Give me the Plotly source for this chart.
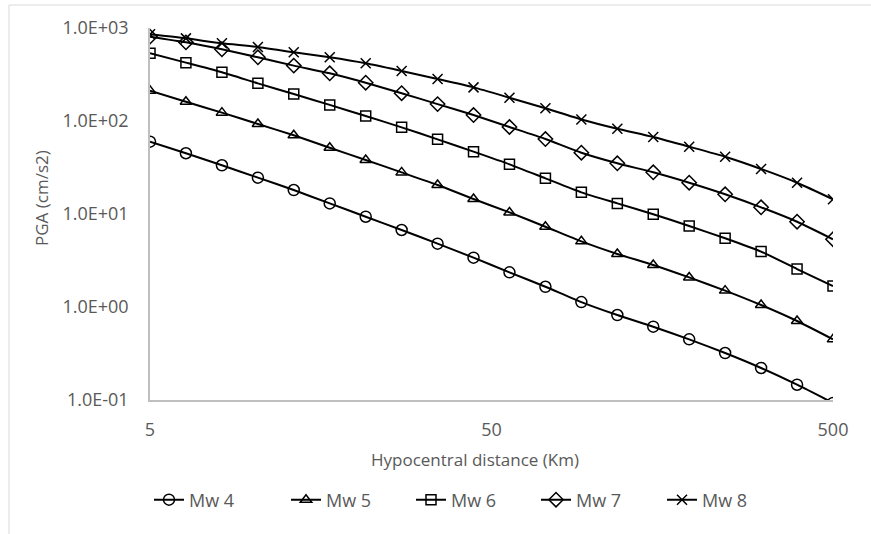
import plotly.graph_objects as go

# Hypocentral distance (km), 20 points evenly spaced on log scale from 5 to 500
distance = [5, 6.37, 8.12, 10.35, 13.18, 16.80, 21.41, 27.28, 34.76, 44.29,
            56.44, 71.92, 91.65, 116.8, 148.8, 189.6, 241.6, 307.9, 392.4, 500]

mw4 = [60, 45, 33.4, 24.6, 18.1, 13.0, 9.35, 6.73, 4.80, 3.39,
       2.36, 1.65, 1.13, 0.82, 0.614, 0.449, 0.320, 0.221, 0.146, 0.093]
mw5 = [212, 161, 123, 92.8, 70.2, 51.6, 38.1, 28.0, 20.5, 14.5,
       10.4, 7.30, 5.08, 3.72, 2.83, 2.08, 1.50, 1.05, 0.707, 0.449]
mw6 = [534, 424, 334, 254, 195, 149, 113, 85.5, 63.5, 46.8,
       34.2, 24.2, 17.1, 13.0, 9.94, 7.43, 5.48, 3.94, 2.56, 1.68]
mw7 = [807, 701, 590, 484, 394, 326, 258, 199, 152, 116,
       86.2, 64.0, 45.6, 35.1, 28.1, 21.7, 16.3, 11.8, 8.26, 5.35]
mw8 = [855, 774, 684, 625, 548, 484, 417, 345, 283, 230,
       178, 137, 104, 82.6, 67.2, 52.9, 41.3, 30.5, 21.7, 14.4]

series_names = ["Mw 4", "Mw 5", "Mw 6", "Mw 7", "Mw 8"]
series_values = [mw4, mw5, mw6, mw7, mw8]
symbols = ["circle-open", "triangle-up-open", "square-open", "diamond-open", "x-thin-open"]
sizes = [11, 10, 10, 11, 10]

y_tickvals = [0.1, 1, 10, 100, 1000]
y_ticktext = ["1.0E-01", "1.0E+00", "1.0E+01", "1.0E+02", "1.0E+03"]
x_tickvals = [5, 50, 500]
x_ticktext = ["5", "50", "500"]

W, H = 871, 534
L, R, T, B = 150, 833, 28, 400  # plot area in pixels
FONT = "Open Sans, Lato, sans-serif"
GRAY = "#595959"


def px(xp):
    return (xp - L) / (R - L)


def py(yp):
    return (B - yp) / (B - T)


fig = go.Figure()
legend_ids = ["legend", "legend2", "legend3", "legend4", "legend5"]
for name, vals, sym, sz, lid in zip(series_names, series_values, symbols, sizes, legend_ids):
    fig.add_trace(go.Scatter(
        x=distance, y=vals, name=name, mode="lines+markers",
        line=dict(color="black", width=2, shape="spline", smoothing=0.6),
        marker=dict(symbol=sym, size=sz, color="black",
                    line=dict(color="black", width=1.5)),
        legend=lid,
    ))

legend_markers = [169, 306, 431, 556, 682]
legend_layout = {}
for lid, mx in zip(legend_ids, legend_markers):
    legend_layout[lid] = dict(
        x=px(mx - 20), xanchor="left", y=py(500), yanchor="middle",
        orientation="h", font=dict(family=FONT, size=18, color=GRAY),
        bgcolor="rgba(0,0,0,0)", borderwidth=0,
    )

fig.update_layout(
    width=W, height=H,
    margin=dict(l=L, r=W - R, t=T, b=H - B),
    paper_bgcolor="white", plot_bgcolor="white",
    showlegend=True,
    xaxis=dict(type="log", range=[0.69897, 2.69897], tickvals=x_tickvals,
               ticktext=x_ticktext, showgrid=False, zeroline=False,
               showline=True, linecolor="#bfbfbf", linewidth=1.5, ticks="",
               ticklabelstandoff=13,
               tickfont=dict(family=FONT, size=18, color=GRAY)),
    yaxis=dict(type="log", range=[-1, 3], tickvals=y_tickvals,
               ticktext=y_ticktext, showgrid=False, zeroline=False,
               showline=True, linecolor="#bfbfbf", linewidth=1.5, ticks="",
               ticklabelstandoff=16,
               tickfont=dict(family=FONT, size=18, color=GRAY)),
    annotations=[
        dict(text="Hypocentral distance (Km)", xref="paper", yref="paper",
             x=px(475), y=py(459), xanchor="center", yanchor="middle",
             showarrow=False, font=dict(family=FONT, size=17, color=GRAY)),
        dict(text="PGA (cm/s2)", xref="paper", yref="paper",
             x=px(41), y=py(198), xanchor="center", yanchor="middle",
             textangle=-90, showarrow=False,
             font=dict(family=FONT, size=17, color=GRAY)),
    ],
    shapes=[dict(type="rect", xref="paper", yref="paper",
                 x0=px(9), x1=px(880), y0=py(545), y1=py(5),
                 line=dict(color="#d9d9d9", width=1), layer="below")],
    **legend_layout,
)

fig.write_html("out.html")
